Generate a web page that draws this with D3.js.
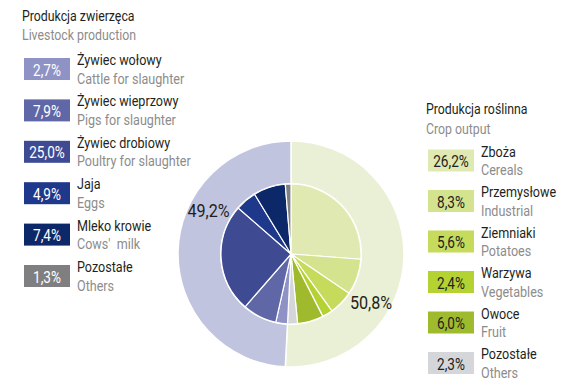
<!DOCTYPE html>
<html><head><meta charset="utf-8">
<script src="https://cdn.jsdelivr.net/npm/d3@7"></script>
<style>
body{margin:0;background:#fff;}
text{font-family:"Roboto",sans-serif;}
</style></head>
<body><svg id="c" width="571" height="382"></svg>
<script>
const groupTitlesPL = ["Produkcja roślinna", "Produkcja zwierzęca"];
const groupTitlesEN = ["Crop output", "Livestock production"];
const groupValues = [50.8, 49.2];

const cropNamesPL = ["Zboża", "Przemysłowe", "Ziemniaki", "Warzywa", "Owoce", "Pozostałe"];
const cropNamesEN = ["Cereals", "Industrial", "Potatoes", "Vegetables", "Fruit", "Others"];
const cropValues = [26.2, 8.3, 5.6, 2.4, 6.0, 2.3];
const cropColors = ["#e1e9b3", "#d4e38e", "#c6da5b", "#b5d233", "#9fbb2d", "#d5d6d9"];

const livestockNamesPL = ["Żywiec wołowy", "Żywiec wieprzowy", "Żywiec drobiowy", "Jaja", "Mleko krowie", "Pozostałe"];
const livestockNamesEN = ["Cattle for slaughter", "Pigs for slaughter", "Poultry for slaughter", "Eggs", "Cows'  milk", "Others"];
const livestockValues = [2.7, 7.9, 25.0, 4.9, 7.4, 1.3];
const livestockColors = ["#8e92c5", "#6067a7", "#3e4b92", "#1e388b", "#0d2868", "#7f7f82"];

const groupColors = ["#eaf0d5", "#c1c4df"];

const loc = d3.formatLocale({decimal: ",", thousands: " ", grouping: [3], currency: ["", ""]});
const fmt = v => loc.format(".1f")(v) + "%";

const SX = 0.85;
function txt(parent, x, y, s, size, fill, anchor) {
  return parent.append("text")
    .attr("transform", `translate(${x},${y}) scale(${SX},1)`)
    .attr("font-size", size).attr("fill", fill)
    .attr("text-anchor", anchor || "start")
    .style("white-space", "pre").text(s);
}

const svg = d3.select("#c");
const cx = 291, cy = 254, R = 113, r = 70;
const g = svg.append("g").attr("transform", `translate(${cx},${cy})`);

const pie = d3.pie().sort(null).value(d => d.v);
const outerData = pie(groupValues.map((v, i) => ({v, c: groupColors[i]})));
const outerArc = d3.arc().innerRadius(0).outerRadius(R);
g.selectAll("path.o").data(outerData).join("path").attr("class", "o")
  .attr("d", outerArc).attr("fill", d => d.data.c)
  .attr("stroke", "#fff").attr("stroke-width", 1.5);

const inner = cropValues.map((v, i) => ({v, c: cropColors[i]}))
  .concat(livestockValues.map((v, i) => ({v, c: livestockColors[i]})));
const innerArc = d3.arc().innerRadius(0).outerRadius(r);
g.append("circle").attr("r", r + 1).attr("fill", "#fff");
g.selectAll("path.i").data(pie(inner)).join("path").attr("class", "i")
  .attr("d", innerArc).attr("fill", d => d.data.c)
  .attr("stroke", "#fff").attr("stroke-width", 1.2).attr("stroke-linejoin", "round");

// group percentage labels
txt(svg, 371, 308.5, fmt(groupValues[0]), 19, "#231f20", "middle");
txt(svg, 208.5, 216.5, fmt(groupValues[1]), 19, "#231f20", "middle");

function legend(x0, titleY, boxY0, step, namesPL, namesEN, values, colors, title, sub, textCol) {
  const L = svg.append("g");
  txt(L, x0 - 2, titleY, title, 14.5, "#231f20");
  txt(L, x0 - 2, titleY + 19.5, sub, 14.5, "#8c8c8c");
  const y = d3.scaleLinear().domain([0, 1]).range([boxY0, boxY0 + step]);
  values.forEach((v, i) => {
    const yy = y(i);
    L.append("rect").attr("x", x0).attr("y", yy).attr("width", 46).attr("height", 22).attr("fill", colors[i]);
    txt(L, x0 + 23, yy + 17.5, fmt(v), 16, textCol, "middle");
    txt(L, x0 + 53, yy + 7, namesPL[i], 14.8, "#231f20");
    txt(L, x0 + 53, yy + 25.5, namesEN[i], 14.8, "#8c8c8c");
  });
}
legend(24, 20.5, 58, 41.4, livestockNamesPL, livestockNamesEN, livestockValues, livestockColors, groupTitlesPL[1], groupTitlesEN[1], "#fff");
legend(428, 114, 149.5, 40.5, cropNamesPL, cropNamesEN, cropValues, cropColors, groupTitlesPL[0], groupTitlesEN[0], "#231f20");
</script></body></html>
